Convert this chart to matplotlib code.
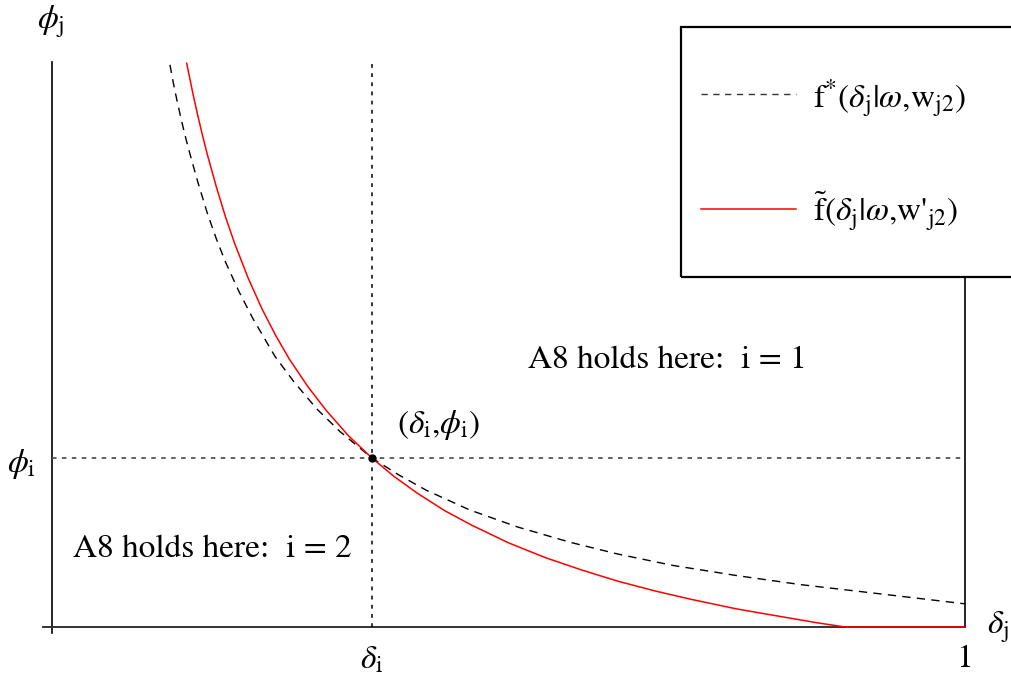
import matplotlib
matplotlib.use("Agg")
import matplotlib.pyplot as plt
from matplotlib.patches import Rectangle

plt.rcParams['mathtext.fontset'] = 'stix'
plt.rcParams['font.family'] = ['STIXGeneral', 'DejaVu Serif']

# ---- data ----
dashed_x = [0.1292, 0.133, 0.137, 0.142, 0.147, 0.153, 0.160, 0.170, 0.180, 0.190,
            0.205, 0.220, 0.2442, 0.265, 0.290, 0.3154, 0.3505, 0.380, 0.410, 0.4578,
            0.510, 0.5674, 0.620, 0.680, 0.750, 0.820, 0.900, 1.0]
dashed_y = [0.995, 0.962, 0.931, 0.895, 0.862, 0.826, 0.786, 0.733, 0.687, 0.646,
            0.593, 0.546, 0.479, 0.434, 0.386, 0.346, 0.299, 0.269, 0.242, 0.207,
            0.177, 0.150, 0.129, 0.109, 0.091, 0.075, 0.060, 0.041]

red_x = [0.1475, 0.150, 0.155, 0.160, 0.165, 0.170, 0.180, 0.190, 0.200, 0.215,
         0.230, 0.245, 0.260, 0.280, 0.300, 0.325, 0.3505, 0.375, 0.400, 0.430,
         0.460, 0.500, 0.540, 0.580, 0.620, 0.660, 0.700, 0.750, 0.800, 0.840,
         0.8686, 1.0]
red_y = [0.998, 0.978, 0.939, 0.903, 0.869, 0.837, 0.779, 0.726, 0.679, 0.617,
         0.563, 0.516, 0.474, 0.426, 0.384, 0.338, 0.299, 0.266, 0.237, 0.206,
         0.180, 0.149, 0.123, 0.101, 0.081, 0.064, 0.049, 0.032, 0.018, 0.007,
         0.0, 0.0]

delta_i = 0.3505
phi_i = 0.299

legend_labels = [r"$\mathrm{f}^{*}(\delta_{\mathrm{j}}|\omega{,}\mathrm{w}_{\mathrm{j2}})$",
                 r"$\tilde{\mathrm{f}}(\delta_{\mathrm{j}}|\omega{,}$w'$_{\mathrm{j2}})$"]
region_labels = ["A8 holds here:  i = 1", "A8 holds here:  i = 2"]

# ---- figure: pixel mapping x0=52, x1=965, y0=627, y1=62 ----
W, H = 1011, 677
fig = plt.figure(figsize=(W / 100, H / 100), dpi=100)
ax = fig.add_axes([0, 0, 1, 1])
sx, sy = 913.0, 565.0
ax.set_xlim(-52 / sx, (W - 52) / sx)
ax.set_ylim((627 - H) / sy, 627 / sy)
ax.axis('off')

FS = 24

# axes lines
ax.plot([0, 0], [-0.011, 1.0], color='black', lw=1.2)
ax.plot([-0.010, 1.0], [0, 0], color='#333333', lw=1.4)
ax.plot([1.0, 1.0], [0, 0.619], color='black', lw=1.2)

# reference lines
ax.plot([delta_i, delta_i], [0, 1.0], color='black', lw=1.1, dashes=(2.5, 3.5))
ax.plot([0, 1.0], [phi_i, phi_i], color='#555555', lw=1.3, dashes=(2.5, 3.0))

# curves
ax.plot(dashed_x, dashed_y, color='black', lw=1.0, dashes=(6, 4.5))
ax.plot(red_x, red_y, color='#ff0000', lw=1.1)
ax.plot([delta_i], [phi_i], 'o', color='black', ms=5)

# legend box
ax.add_patch(Rectangle((0.689, 0.619), 0.5, 0.443, fill=False, ec='black', lw=1.6))
ax.plot([(701 - 52) / sx, (796 - 52) / sx], [0.943, 0.943], color='#333333', lw=1.0, dashes=(4.5, 4.0))
ax.plot([(701 - 52) / sx, (796 - 52) / sx], [0.740, 0.740], color='#ff0000', lw=1.1)
ax.text((813 - 52) / sx, 0.935, legend_labels[0], fontsize=FS, va='center', ha='left')
ax.text((813 - 52) / sx, 0.735, legend_labels[1], fontsize=FS, va='center', ha='left')

# annotations
ax.text(0.5214, 0.4726, region_labels[0], fontsize=FS, va='center', ha='left')
ax.text(0.023, 0.138, region_labels[1], fontsize=FS, va='center', ha='left')
ax.text(0.378, 0.3575, r"$(\delta_{\mathrm{i}}{,}\phi_{\mathrm{i}})$", fontsize=FS, va='center', ha='left')

# axis labels / ticks
ax.text(-0.0164, 1.071, r"$\phi_{\mathrm{j}}$", fontsize=FS, va='center', ha='left')
ax.text(-0.033, phi_i - 0.01, r"$\phi_{\mathrm{i}}$", fontsize=FS, va='center', ha='center')
ax.text(delta_i, -0.058, r"$\delta_{\mathrm{i}}$", fontsize=FS, va='center', ha='center')
ax.text(1.0, -0.058, "1", fontsize=FS, va='center', ha='center')
ax.text((987 - 52) / sx, 0.0, r"$\delta_{\mathrm{j}}$", fontsize=FS, va='center', ha='left')

fig.savefig("out.png", dpi=100)
